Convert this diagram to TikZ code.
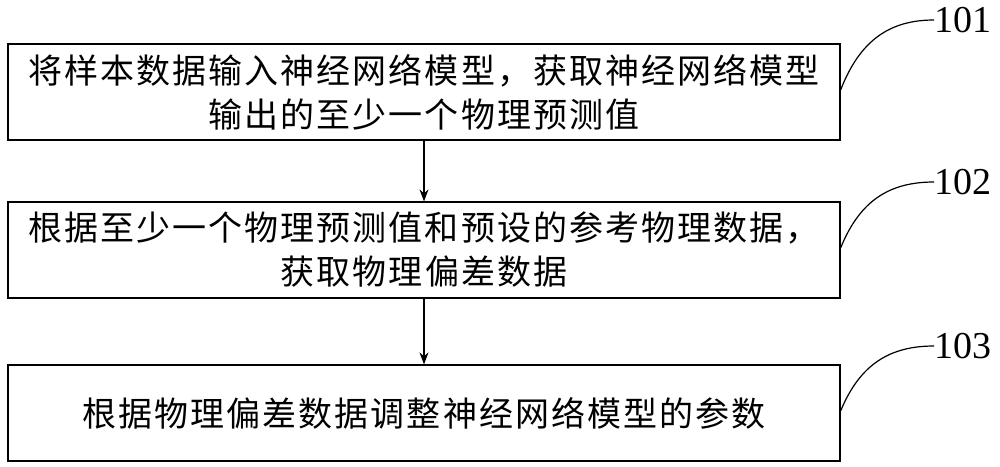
\documentclass[tikz,border=0pt]{standalone}
\usepackage{fontspec}
\setmainfont{Liberation Serif}
\newfontfamily\cjk[LetterSpace=6]{Noto Sans CJK SC}
\usetikzlibrary{arrows.meta}
\begin{document}
\begin{tikzpicture}[x=1pt,y=-1pt,
  box/.style={draw,line width=1.2pt,minimum width=832pt,minimum height=96pt,inner sep=0pt,align=center,font=\cjk\fontsize{34}{44}\selectfont},
  lab/.style={font=\fontsize{38}{38}\selectfont,anchor=west,inner sep=0pt},
  arr/.style={-{Stealth[length=12pt,width=9pt]},line width=1.2pt},
  cur/.style={line width=1.2pt}]
\useasboundingbox (0,0) rectangle (1000,466);
\node[box] (b1) at (424,92) {将样本数据输入神经网络模型，获取神经网络模型\\输出的至少一个物理预测值};
\node[box] (b2) at (424,250) {根据至少一个物理预测值和预设的参考物理数据，\\获取物理偏差数据};
\node[box] (b3) at (424,413) {根据物理偏差数据调整神经网络模型的参数};
\draw[arr] (b1) -- (b2);
\draw[arr] (b2) -- (b3);
\node[lab] (l1) at (934,20) {101};
\node[lab] (l2) at (934,182) {102};
\node[lab] (l3) at (934,346) {103};
\draw[cur] (b1.east) ++(0,-2) coordinate (c1) .. controls (860,40) and (890,20) .. (l1.west);
\draw[cur] (b2.east) ++(0,-2) coordinate (c2) .. controls (860,200) and (890,182) .. (l2.west);
\draw[cur] (b3.east) ++(0,-2) coordinate (c3) .. controls (860,364) and (890,346) .. (l3.west);
\end{tikzpicture}
\end{document}
